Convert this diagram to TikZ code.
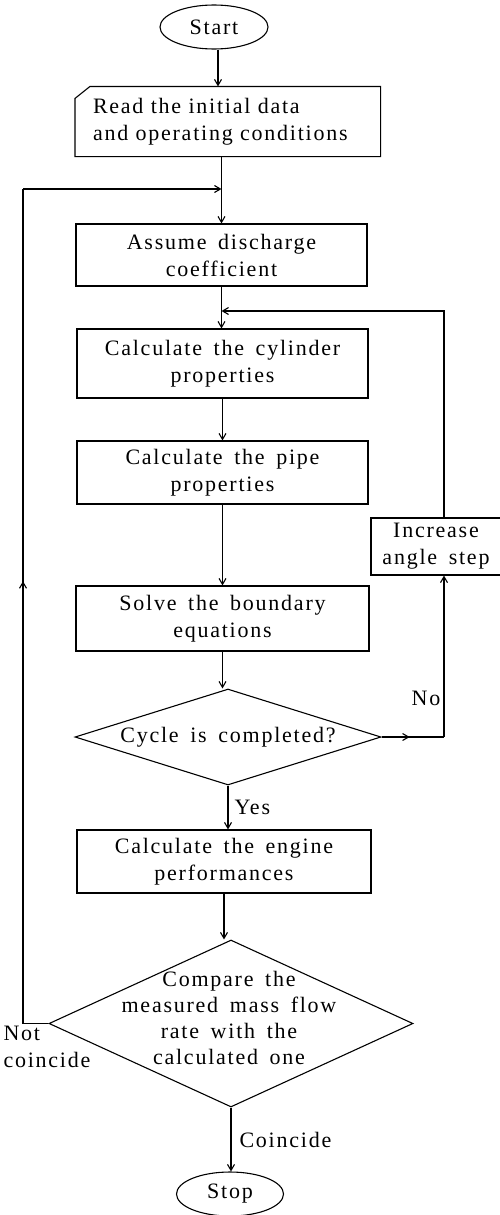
\documentclass[tikz,border=0pt]{standalone}
\usepackage{fontspec}
\setmainfont{Liberation Serif}[LetterSpace=8,WordSpace={1.6}]
\usetikzlibrary{shapes.geometric,arrows.meta,decorations.markings}
\begin{document}
\begin{tikzpicture}[x=1pt,y=1pt, line width=1.1pt,
  every node/.style={font=\fontsize{22}{27}\selectfont},
  box/.style={draw, rectangle, align=center, inner sep=0pt},
  term/.style={draw, ellipse, inner sep=0pt},
  dia/.style={draw, diamond, inner sep=0pt},
  txt/.style={align=center, inner sep=0pt},
  arr/.style={-{Straight Barb[length=6pt,width=7pt]}},
  midarr/.style={postaction={decorate}, decoration={markings, mark=at position #1 with {\arrow{Straight Barb[length=6pt,width=7pt]}}}}
]
\useasboundingbox (0,0) rectangle (499,-1215);

% nodes
\node[term, minimum width=108pt, minimum height=44pt] (start) at (214,-27) {Start};
\node[align=left, inner sep=0pt, text width=270pt, minimum height=69pt] (read) at (228,-121.5) {Read the initial data\\and operating conditions};
\draw ([xshift=-17.5pt]read.north west) ++(15pt,0) coordinate (rc1)
  (rc1) -- ([xshift=17pt]read.north east) -- ([xshift=17pt]read.south east) -- ([xshift=-17.5pt]read.south west) -- ([xshift=-17.5pt,yshift=-12pt]read.north west) -- cycle;
\node[box, minimum width=291pt, minimum height=62pt] (assume) at (221.5,-255) {Assume discharge\\coefficient};
\node[box, minimum width=291pt, minimum height=69pt] (cyl) at (222.5,-363.5) {Calculate the cylinder\\properties};
\node[box, minimum width=291pt, minimum height=63pt] (pipe) at (222.5,-472.5) {Calculate the pipe\\properties};
\node[box, minimum width=293pt, minimum height=65pt] (solve) at (222.5,-618.5) {Solve the boundary\\equations};
\node[dia, minimum width=306pt, minimum height=96pt] (d1) at (228,-737) {};
\node[txt] (d1t) at (d1.center) {Cycle is completed?};
\node[box, minimum width=136pt, minimum height=57pt] (inc) at (439,-546.5) {};
\node[txt] (inct) at (436,-546.5) {Increase\\angle step};
\node[box, minimum width=294pt, minimum height=63pt] (eng) at (224,-861.5) {Calculate the engine\\performances};
\node[dia, minimum width=364pt, minimum height=167pt] (d2) at (231,-1023.5) {};
\node[txt, font=\fontsize{22}{26}\selectfont] (d2t) at (229,-1018) {Compare the\\measured mass flow\\rate with the\\calculated one};
\node[term, minimum width=107pt, minimum height=44pt] (stop) at (230,-1194) {Stop};

% labels
\node[inner sep=0pt] (lno) at (426,-698) {No};
\node[inner sep=0pt, anchor=north west, align=left] (lnot) at (3,-1026) {Not\\coincide};

% connectors
\draw[arr] ([xshift=4pt]start.south) -- ([xshift=4pt]start.south |- read.north);
\draw[arr] (read.south -| assume.north) -- (assume.north);
\coordinate (j1) at (assume.north |- 0,-189);
\draw[arr] (assume.south) -- (assume.south |- cyl.north);
\coordinate (j2) at (assume.south |- 0,-311);
\draw[arr] (cyl.south) -- (cyl.south |- pipe.north);
\draw[arr] (pipe.south) -- (pipe.south |- solve.north);
\draw[arr] (solve.south) -- (solve.south |- d1.north);
\draw[arr] (d1.south) -- node[right, inner sep=6pt] (lyes) {Yes} (d1.south |- eng.north);
\draw[arr] (eng.south) -- (eng.south |- d2.north);
\draw[arr] (d2.south) -- node[right, inner sep=8pt] (lcoin) {Coincide} (d2.south |- stop.north);

% right loop
\coordinate (r1) at (444,-737);
\coordinate (r2) at (444,-311);
\draw[midarr=0.45] (d1.east) -- (r1);
\draw[arr] (r1) -- (r1 |- inc.south);
\draw[arr] (r1 |- inc.north) -- (r2) -- (j2);

% left loop
\coordinate (l1) at (23,-1023.5);
\coordinate (l2) at (23,-189);
\draw (d2.west) -- (l1);
\draw[midarr=0.53] (l1) -- (l2);
\draw[arr] (l2) -- (j1);
\end{tikzpicture}
\end{document}
